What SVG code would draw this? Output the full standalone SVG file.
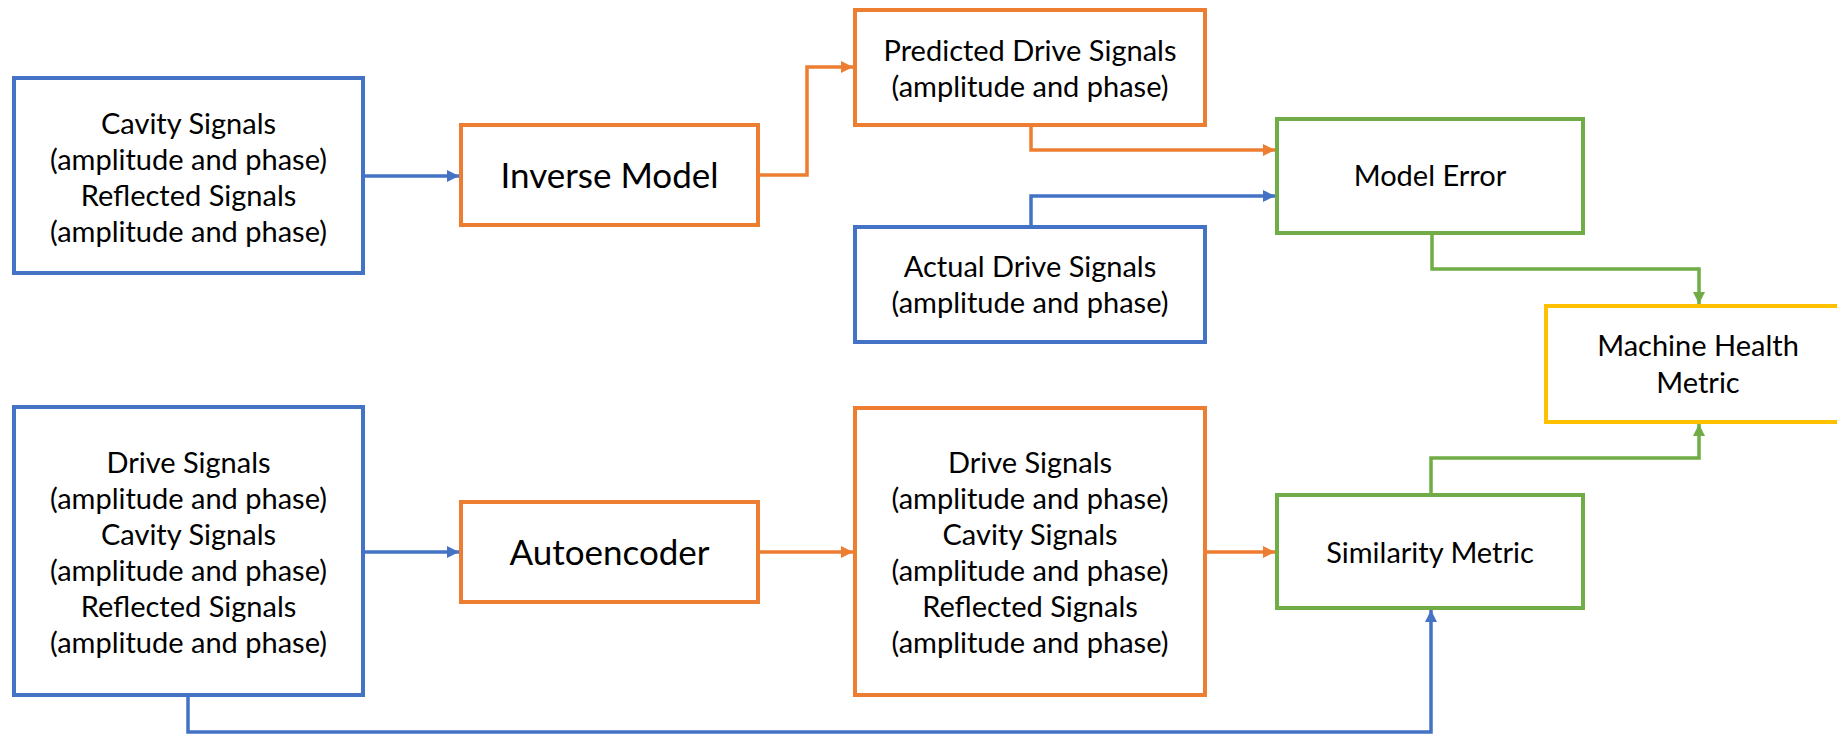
<svg xmlns="http://www.w3.org/2000/svg" width="1837" height="734" viewBox="0 0 1837 734">
<style>
  .box{fill:#fff;stroke-width:4}
  .b{stroke:#4472C4}.o{stroke:#ED7D31}.g{stroke:#70AD47}.y{stroke:#FFC000}
  text{font-family:Lato,"Open Sans","Liberation Sans",sans-serif;fill:#000;text-anchor:middle}
  .t{font-size:29px}
  .big{font-size:35px}
  .c{fill:none;stroke-width:3.5}
</style>
<defs>
  <marker id="ab" markerUnits="userSpaceOnUse" markerWidth="14" markerHeight="14" refX="12" refY="6" orient="auto"><path d="M0,0 L12,6 L0,12 z" fill="#4472C4"/></marker>
  <marker id="ao" markerUnits="userSpaceOnUse" markerWidth="14" markerHeight="14" refX="12" refY="6" orient="auto"><path d="M0,0 L12,6 L0,12 z" fill="#ED7D31"/></marker>
  <marker id="ag" markerUnits="userSpaceOnUse" markerWidth="14" markerHeight="14" refX="12" refY="6" orient="auto"><path d="M0,0 L12,6 L0,12 z" fill="#70AD47"/></marker>
</defs>
<rect width="1837" height="734" fill="#fff"/>
<g id="connectors">
  <path class="c b" d="M363,176 H459" marker-end="url(#ab)"/>
  <path class="c o" d="M758,175 H807 V67 H853" marker-end="url(#ao)"/>
  <path class="c o" d="M1031,125 V150 H1275" marker-end="url(#ao)"/>
  <path class="c b" d="M1031,227 V196 H1275" marker-end="url(#ab)"/>
  <path class="c g" d="M1432,233 V269 H1699 V304" marker-end="url(#ag)"/>
  <path class="c g" d="M1431,495 V458 H1699 V424" marker-end="url(#ag)"/>
  <path class="c b" d="M363,552 H459" marker-end="url(#ab)"/>
  <path class="c o" d="M758,552 H853" marker-end="url(#ao)"/>
  <path class="c o" d="M1205,552 H1275" marker-end="url(#ao)"/>
  <path class="c b" d="M188,695 V732 H1431 V610" marker-end="url(#ab)"/>
</g>
<g id="cavity-reflected-input">
  <rect class="box b" x="14" y="78" width="349" height="195"/>
  <text class="t" x="188.5" y="134">Cavity Signals</text>
  <text class="t" x="188.5" y="170">(amplitude and phase)</text>
  <text class="t" x="188.5" y="206">Reflected Signals</text>
  <text class="t" x="188.5" y="242">(amplitude and phase)</text>
</g>
<g id="inverse-model">
  <rect class="box o" x="461" y="125" width="297" height="100"/>
  <text class="big" x="609.5" y="188">Inverse Model</text>
</g>
<g id="predicted-drive">
  <rect class="box o" x="855" y="10" width="350" height="115"/>
  <text class="t" x="1030" y="61">Predicted Drive Signals</text>
  <text class="t" x="1030" y="97">(amplitude and phase)</text>
</g>
<g id="actual-drive">
  <rect class="box b" x="855" y="227" width="350" height="115"/>
  <text class="t" x="1030" y="277">Actual Drive Signals</text>
  <text class="t" x="1030" y="313">(amplitude and phase)</text>
</g>
<g id="model-error">
  <rect class="box g" x="1277" y="119" width="306" height="114"/>
  <text class="t" x="1430" y="186">Model Error</text>
</g>
<g id="machine-health">
  <rect class="box y" x="1546" y="306" width="304" height="116"/>
  <text class="t" x="1698" y="356">Machine Health</text>
  <text class="t" x="1698" y="393">Metric</text>
</g>
<g id="all-signals-input">
  <rect class="box b" x="14" y="407" width="349" height="288"/>
  <text class="t" x="188.5" y="473">Drive Signals</text>
  <text class="t" x="188.5" y="509">(amplitude and phase)</text>
  <text class="t" x="188.5" y="545">Cavity Signals</text>
  <text class="t" x="188.5" y="581">(amplitude and phase)</text>
  <text class="t" x="188.5" y="617">Reflected Signals</text>
  <text class="t" x="188.5" y="653">(amplitude and phase)</text>
</g>
<g id="autoencoder">
  <rect class="box o" x="461" y="502" width="297" height="100"/>
  <text class="big" x="609.5" y="565">Autoencoder</text>
</g>
<g id="reconstructed-signals">
  <rect class="box o" x="855" y="408" width="350" height="287"/>
  <text class="t" x="1030" y="473">Drive Signals</text>
  <text class="t" x="1030" y="509">(amplitude and phase)</text>
  <text class="t" x="1030" y="545">Cavity Signals</text>
  <text class="t" x="1030" y="581">(amplitude and phase)</text>
  <text class="t" x="1030" y="617">Reflected Signals</text>
  <text class="t" x="1030" y="653">(amplitude and phase)</text>
</g>
<g id="similarity-metric">
  <rect class="box g" x="1277" y="495" width="306" height="113"/>
  <text class="t" x="1430" y="563">Similarity Metric</text>
</g>
</svg>
